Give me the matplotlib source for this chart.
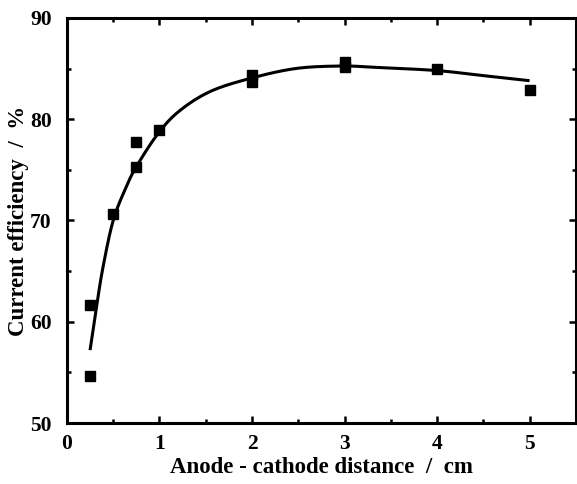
import matplotlib
matplotlib.use("Agg")
import matplotlib.pyplot as plt
from matplotlib.ticker import MultipleLocator
import numpy as np

# Measured data points
dist = [0.25, 0.25, 0.5, 0.75, 0.75, 1.0, 2.0, 2.0, 3.0, 3.0, 4.0, 5.0]
eff = [61.7, 54.6, 70.6, 77.7, 75.3, 78.9, 84.4, 83.7, 85.6, 85.2, 85.0, 82.9]

# Fitted curve
curve_x = [0.25, 0.32, 0.39, 0.5, 0.64, 0.75, 0.97, 1.2, 1.54, 1.97, 2.47, 2.97, 3.37, 4.0, 4.5, 5.0]
curve_y = [57.2, 61.5, 65.4, 70.0, 73.3, 75.3, 78.4, 80.7, 82.7, 84.0, 85.0, 85.25, 85.1, 84.8, 84.3, 83.8]

plt.rcParams['font.family'] = ['Liberation Serif', 'DejaVu Serif']
plt.rcParams['font.weight'] = 'bold'

fig = plt.figure(figsize=(5.77, 4.84), dpi=100)
ax = fig.add_axes([0.116, 0.126, 0.882, 0.837])

# smooth drawing of the read curve points (Catmull-Rom)
def catmull(xs, ys, n=12):
    xs = np.asarray(xs); ys = np.asarray(ys)
    px = np.concatenate([[2*xs[0]-xs[1]], xs, [2*xs[-1]-xs[-2]]])
    py = np.concatenate([[2*ys[0]-ys[1]], ys, [2*ys[-1]-ys[-2]]])
    outx, outy = [], []
    for i in range(1, len(px)-2):
        t = np.linspace(0, 1, n, endpoint=False)
        for arr, out in ((px, outx), (py, outy)):
            p0, p1, p2, p3 = arr[i-1], arr[i], arr[i+1], arr[i+2]
            out.extend(0.5*((2*p1) + (-p0+p2)*t + (2*p0-5*p1+4*p2-p3)*t**2 + (-p0+3*p1-3*p2+p3)*t**3))
    outx.append(xs[-1]); outy.append(ys[-1])
    return outx, outy

cx, cy = catmull(curve_x, curve_y)
ax.plot(cx, cy, color='black', lw=2.2, solid_capstyle='butt')
ax.plot(dist, eff, 's', color='black', markersize=6.5, linestyle='none')

ax.set_xlim(0, 5.5)
ax.set_ylim(50, 90)
ax.xaxis.set_major_locator(MultipleLocator(1))
ax.xaxis.set_minor_locator(MultipleLocator(0.5))
ax.yaxis.set_major_locator(MultipleLocator(10))
ax.yaxis.set_minor_locator(MultipleLocator(5))
ax.tick_params(which='both', direction='in', top=True, right=True, width=1.8, labelsize=15.5)
ax.tick_params(axis='y', which='major', length=5, pad=11)
ax.tick_params(axis='x', which='major', length=5, pad=8)
ax.tick_params(which='minor', length=3)
for s in ax.spines.values():
    s.set_linewidth(2.2)

ax.set_xlabel('Anode - cathode distance  /  cm', fontsize=16.5, fontweight='bold', labelpad=2)
ax.set_ylabel('Current efficiency  /  %', fontsize=16.5, fontweight='bold', labelpad=1)

fig.savefig('out.png', dpi=100)
